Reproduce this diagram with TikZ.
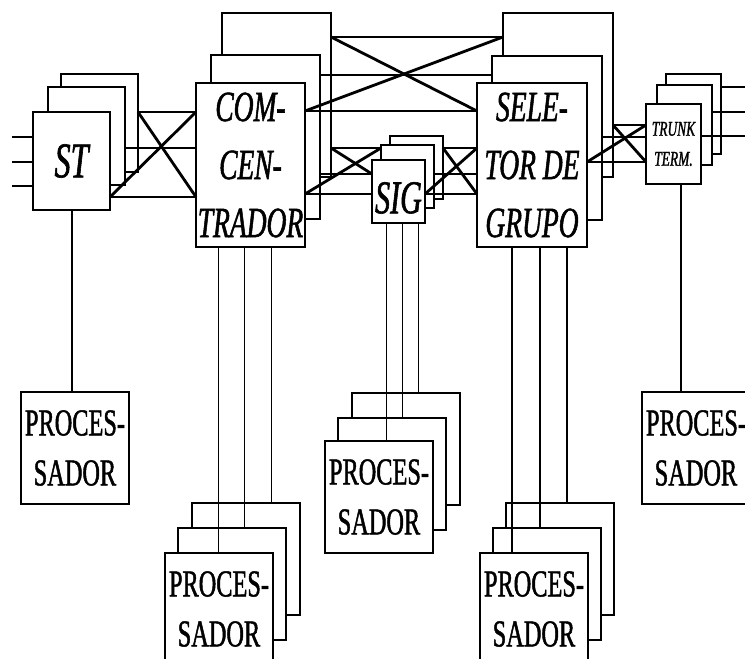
\documentclass[tikz,border=0pt]{standalone}
\usepackage{fontspec}
\newfontfamily\lblfont[FakeStretch=0.64, FakeBold=1.2]{Liberation Serif}
\usetikzlibrary{positioning, calc}

\tikzset{
  blk/.style={rectangle, draw=black, fill=white, line width=2.7pt,
    inner sep=0pt, outer sep=0pt, anchor=north west, align=center},
  blkST/.style={blk, minimum width=77pt, minimum height=98pt,
    font={\lblfont\itshape\fontsize{50}{52}\selectfont}},
  blkCO/.style={blk, minimum width=109pt, minimum height=164pt,
    font={\lblfont\itshape\fontsize{43}{58}\selectfont}},
  blkSG/.style={blk, minimum width=53pt, minimum height=63pt,
    text height=44pt,
    font={\lblfont\itshape\fontsize{47}{50}\selectfont}},
  blkSE/.style={blkCO, minimum width=110pt},
  blkTK/.style={blk, minimum width=55pt, minimum height=80pt,
    font={\lblfont\itshape\fontsize{21}{30}\selectfont}},
  proc/.style={blk, minimum width=108pt, minimum height=112pt,
    font={\lblfont\fontsize{38}{50}\selectfont}},
  bus/.style={draw=black, line width=2.8pt},
  link/.style={draw=black, line width=1.6pt},
}

\begin{document}
\begin{tikzpicture}[x=1pt, y=-1pt]
  \useasboundingbox (0,0) rectangle (745,659);
  \clip (0,0) rectangle (745,659);

  % -- row levels of the switching links --
  \coordinate (s1) at (0,112);
  \coordinate (s2) at (0,148);
  \coordinate (s3) at (0,197);
  \coordinate (u1) at (0,37);
  \coordinate (u2) at (0,75);
  \coordinate (u3) at (0,111);
  \coordinate (m1) at (0,148);
  \coordinate (m2) at (0,174);
  \coordinate (m3) at (0,194);
  \coordinate (t1) at (0,125);
  \coordinate (t2) at (0,137);
  \coordinate (t3) at (0,162);
  \coordinate (in1) at (12,137);
  \coordinate (in2) at (12,162);
  \coordinate (in3) at (12,186);
  \coordinate (out1) at (745,87);
  \coordinate (out2) at (745,112);
  \coordinate (out3) at (745,136);

  % -- ST stack --
  \node[blkST] (stC) at (61,74) {};
  \node[blkST] (stB) at (48,87) {};
  \node[blkST] (stA) at (33,112) {ST};

  % -- Concentrador stack --
  \node[blkCO] (coC) at (222,13) {};
  \node[blkCO] (coB) at (211,55) {};
  \node[blkCO] (coA) at (196,83) {COM-\\CEN-\\TRADOR};

  % -- SIG stack --
  \node[blkSG] (sgC) at (390,136) {};
  \node[blkSG] (sgB) at (381,145) {};
  \node[blkSG] (sgA) at (372,160) {SIG};

  % -- Selector de grupo stack --
  \node[blkSE] (seC) at (503,13) {};
  \node[blkSE] (seB) at (492,56) {};
  \node[blkSE] (seA) at (477,83) {SELE-\\TOR DE\\GRUPO};

  % -- Trunk terminal stack --
  \node[blkTK] (tkC) at (666,74) {};
  \node[blkTK] (tkB) at (657,85) {};
  \node[blkTK] (tkA) at (646,104) {TRUNK\\TERM.};

  % -- Processors --
  \node[proc] (pST) at (21,392) {PROCES-\\SADOR};
  \node[proc] (pcC) at (192,503) {};
  \node[proc] (pcB) at (178,528) {};
  \node[proc] (pcA) at (165,553) {PROCES-\\SADOR};
  \node[proc] (psC) at (352,393) {};
  \node[proc] (psB) at (338,418) {};
  \node[proc] (psA) at (325,441) {PROCES-\\SADOR};
  \node[proc] (peC) at (506,503) {};
  \node[proc] (peB) at (493,528) {};
  \node[proc] (peA) at (480,553) {PROCES-\\SADOR};
  \node[proc] (pTR) at (642,392) {PROCES-\\SADOR};

  % Lines into ST and out of the trunk terminal
  \foreach \r/\c in {in1/stA, in2/stA, in3/stA}
    \draw[bus] (\r) -- (\c.west |- \r);
  \foreach \c/\r in {tkC/out1, tkB/out2, tkA/out3}
    \draw[bus] (\c.east |- \r) -- (\r);

  % Switching links between the stages
  \foreach \a/\b/\r in {stC/coA/s1, stB/coA/s2, stA/coA/s3,
                        coC/seC/u1, coB/seB/u2, coA/seA/u3,
                        coC/sgB/m1, coB/sgA/m2, coA/sgA/m3,
                        sgC/seA/m1, sgB/seA/m2, sgA/seA/m3,
                        seC/tkA/t1, seB/tkA/t2, seA/tkA/t3}
    \draw[bus] (\a.east |- \r) -- (\b.west |- \r);

  % crossings
  \draw[bus] (stC.east |- s1) -- (coA.west |- s3);
  \draw[bus] (stA.east |- s3) -- (coA.west |- s1);
  \draw[bus] (coC.east |- u1) -- (seA.west |- u3);
  \draw[bus] (coA.east |- u3) -- (seC.west |- u1);
  \draw[bus] (coC.east |- m1) -- (sgA.west |- m2);
  \draw[bus] (coA.east |- m3) -- (sgB.west |- m1);
  \draw[bus] (sgC.east |- m1) -- (seA.west |- m3);
  \draw[bus] (sgA.east |- m3) -- (seA.west |- m1);
  \draw[bus] (seC.east |- t1) -- (tkA.west |- t3);
  \draw[bus] (seA.east |- t3) -- (tkA.west |- t1);

  % Links down to the processors
  \draw[link, line width=2pt] (stA.south) -- (stA.south |- pST.north);
  \draw[link, line width=2pt] ([xshift=7]tkA.south) -- ([xshift=7]tkA.south |- pTR.north);
  \foreach \dx/\p in {-32/pcA, -6/pcB, 21/pcC}
    \draw[link] ([xshift=\dx]coA.south) -- ([xshift=\dx]coA.south |- \p.north);
  \foreach \dx/\p in {-12/psA, 4/psB, 20/psC}
    \draw[link] ([xshift=\dx]sgA.south) -- ([xshift=\dx]sgA.south |- \p.north);
  \foreach \dx/\p in {-20/peA, 8/peB, 35/peC}
    \draw[link] ([xshift=\dx]seA.south) -- ([xshift=\dx]seA.south |- \p.north);
\end{tikzpicture}
\end{document}
